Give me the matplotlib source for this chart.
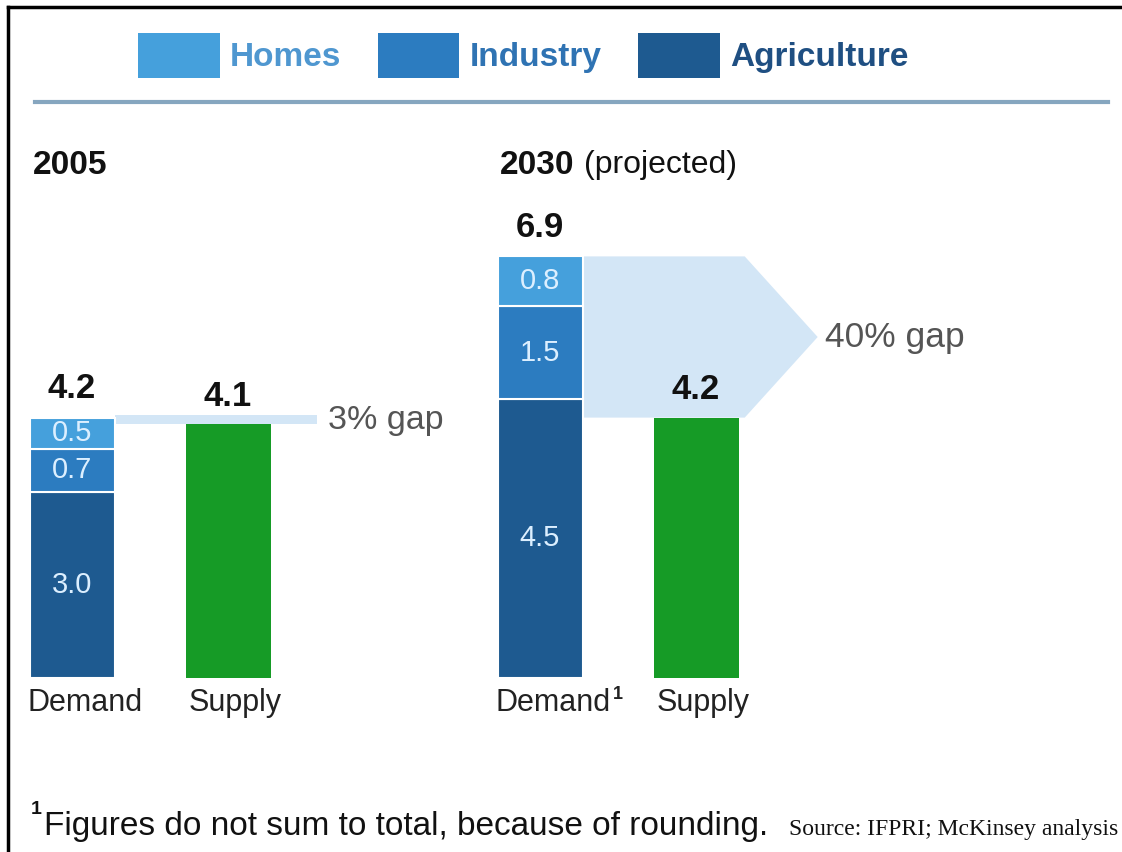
import numpy as np
import matplotlib
matplotlib.use('Agg')
import matplotlib.pyplot as plt
from matplotlib.patches import Patch, Polygon, Rectangle
from matplotlib.lines import Line2D

plt.rcParams['font.family'] = ['Liberation Sans', 'DejaVu Sans']

# water demand vs supply, thousand km3
sectors = ['Homes', 'Industry', 'Agriculture']
sector_colors = ['#45a0dc', '#2c7cc0', '#1e5a90']
legend_text_colors = ['#4f97d0', '#2f73b3', '#1f4f82']
years = ['2005', '2030']
agriculture = [3.0, 4.5]
industry = [0.7, 1.5]
homes = [0.5, 0.8]
demand_total = [4.2, 6.9]
supply = [4.1, 4.2]
gap_labels = ['3% gap', '40% gap']
demand_names = ['Demand', 'Demand']

SUPPLY_COLOR = '#169b26'
GAP_COLOR = '#d3e6f6'
W, H = 1122, 852
XU, YU = 156.0, 62.0          # pixels per x unit / per thousand km3
X0, Y0 = 72.0, 678.0          # pixel position of first bar centre / baseline
BAR_W = 85 / XU

fig = plt.figure(figsize=(W / 100, H / 100), dpi=100)
ax = fig.add_axes([0, 0, 1, 1])
ax.axis('off')
ax.set_xlim(-X0 / XU, (W - X0) / XU)
ax.set_ylim(-(H - Y0) / YU, Y0 / YU)

demand_x = np.array([0, 3])
supply_x = demand_x + 1

# stacked demand bars
bottom = np.zeros(2)
stack = [(agriculture, sector_colors[2]), (industry, sector_colors[1]), (homes, sector_colors[0])]
for vals, col in stack:
    vals = np.array(vals)
    ax.bar(demand_x, vals, BAR_W, bottom=bottom, color=col, edgecolor='white', linewidth=1.5, zorder=3)
    for x, b, v in zip(demand_x, bottom, vals):
        ax.text(x, b + v / 2, f'{v:.1f}', ha='center', va='center', color='#dcefff', fontsize=21, zorder=4)
    bottom = bottom + vals
demand_top = bottom

ax.bar(supply_x, supply, BAR_W, color=SUPPLY_COLOR, zorder=3)

# totals above bars
for x, top, v in zip(demand_x, demand_top, demand_total):
    ax.annotate(f'{v:.1f}', (x, top), xytext=(0, 21), textcoords='offset points',
                ha='center', va='center', fontsize=25, fontweight='bold', color='#111111')
for x, v in zip(supply_x, supply):
    ax.annotate(f'{v:.1f}', (x, v), xytext=(0, 20), textcoords='offset points',
                ha='center', va='center', fontsize=25, fontweight='bold', color='#111111')

# 2005 gap: thin band from demand to a short way past supply
x_l = demand_x[0] + BAR_W / 2
ax.add_patch(Rectangle((x_l, supply[0]), 1.57 - x_l, demand_top[0] - supply[0] + 0.04,
                       facecolor=GAP_COLOR, edgecolor='none', zorder=1))
ax.text(1.64, (supply[0] + demand_top[0]) / 2, gap_labels[0], ha='left', va='center',
        fontsize=24.5, color='#555555')

# 2030 gap: arrow-shaped band
x_l = demand_x[1] + BAR_W / 2
x_r = supply_x[1] + BAR_W / 2 + 0.04
tip = 4.78
mid = (supply[1] + demand_top[1]) / 2
ax.add_patch(Polygon([(x_l, demand_top[1]), (x_r, demand_top[1]), (tip, mid),
                      (x_r, supply[1]), (x_l, supply[1])],
                     closed=True, facecolor=GAP_COLOR, edgecolor='none', zorder=1))
ax.text(tip + 0.05, mid, gap_labels[1], ha='left', va='center', fontsize=25.5, color='#555555')

# category labels under bars
for x, name in zip(demand_x, demand_names):
    ax.text(x - BAR_W / 2 - 0.01, -0.4, name, ha='left', va='center', fontsize=22, color='#222222')
ax.text(demand_x[1] + 0.47, -0.27, '1', ha='left', va='center', fontsize=13, fontweight='bold',
        color='#222222')
for x in supply_x:
    ax.text(x - BAR_W / 2 + 0.02, -0.4, 'Supply', ha='left', va='center', fontsize=22, color='#222222')

# panel titles
fig.text(33 / W, 1 - 165 / H, years[0], ha='left', va='center', fontsize=24, fontweight='bold', color='#111111')
fig.text(500 / W, 1 - 165 / H, years[1], ha='left', va='center', fontsize=24, fontweight='bold', color='#111111')
fig.text(584 / W, 1 - 165 / H, '(projected)', ha='left', va='center', fontsize=23, color='#111111')

# legend
handles = [Patch(facecolor=c, edgecolor='none') for c in sector_colors]
leg = fig.legend(handles, sectors, loc='upper left', bbox_to_anchor=(138 / W, 1 - 33 / H),
                 ncol=3, frameon=False, prop={'size': 24, 'weight': 'bold'},
                 handlelength=2.45, handleheight=1.7, handletextpad=0.3,
                 columnspacing=1.1, borderpad=0, borderaxespad=0)
for t, c in zip(leg.get_texts(), legend_text_colors):
    t.set_color(c)

# rule under legend and the frame lines
fig.add_artist(Line2D([35 / W, 1108 / W], [1 - 102 / H] * 2, color='#86a6bf', lw=3))
fig.add_artist(Line2D([8 / W, 1], [1 - 7 / H] * 2, color='black', lw=2.5))
fig.add_artist(Line2D([8 / W, 8 / W], [0, 1 - 7 / H], color='black', lw=2.5))

# footnote and source
fig.text(31 / W, 1 - 810 / H, '1', ha='left', va='center', fontsize=14, fontweight='bold', color='#111111')
fig.text(44 / W, 1 - 826 / H, 'Figures do not sum to total, because of rounding.', ha='left',
         va='center', fontsize=24, color='#111111')
fig.text(1118 / W, 1 - 829 / H, 'Source: IFPRI; McKinsey analysis', ha='right', va='center',
         fontsize=17, family=['Liberation Serif', 'DejaVu Serif'], color='#111111')

fig.savefig('out.png', dpi=100)
